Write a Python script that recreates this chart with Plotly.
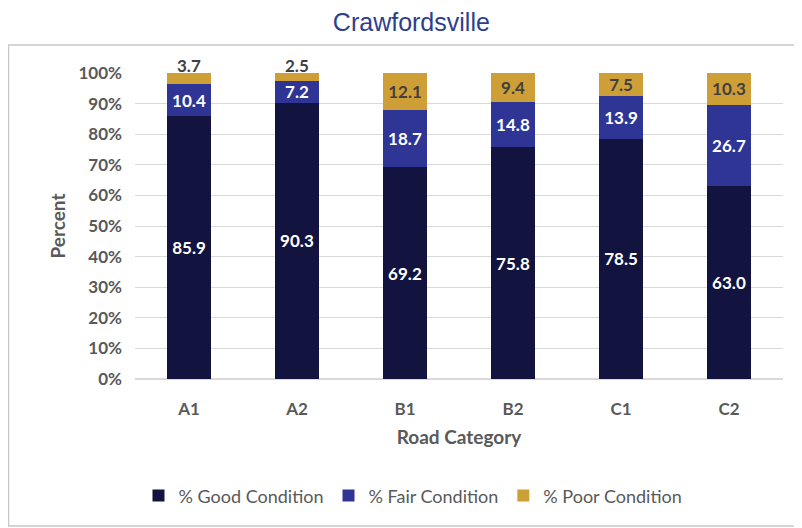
import plotly.graph_objects as go

# Road condition share per category (percent)
categories = ["A1", "A2", "B1", "B2", "C1", "C2"]
good = [85.9, 90.3, 69.2, 75.8, 78.5, 63.0]
fair = [10.4, 7.2, 18.7, 14.8, 13.9, 26.7]
poor = [3.7, 2.5, 12.1, 9.4, 7.5, 10.3]

series = [
    ("% Good Condition", good, "#13133f", "white"),
    ("% Fair Condition", fair, "#2f3594", "white"),
    ("% Poor Condition", poor, "#cf9f37", "#404040"),
]

label_font = dict(family="Lato", size=17, weight="bold")

fig = go.Figure()
for name, vals, color, txtcolor in series:
    if name.startswith("% Poor"):
        # tiny segments: label drawn above the bar instead (see annotations)
        texts = ["" if v < 5 else f"{v:.1f}" for v in vals]
    else:
        texts = [f"{v:.1f}" for v in vals]
    fig.add_trace(go.Bar(
        x=categories,
        y=vals,
        name=name,
        marker=dict(color=color, line=dict(width=0)),
        text=texts,
        textposition="inside",
        insidetextanchor="middle",
        textfont=dict(color=txtcolor, **label_font),
        width=0.4,
    ))

# labels for the small poor segments, sitting on top of the stack
for cat, g, f, p in zip(categories, good, fair, poor):
    if p < 5:
        top = min(round(g + f + p, 1), 100)
        fig.add_annotation(x=cat, y=top, text=f"{p:.1f}", showarrow=False,
                           yanchor="bottom", yshift=-5,
                           font=dict(color="#404040", **label_font))

# grey frame around the chart area
fig.add_shape(type="rect", xref="paper", yref="paper",
              x0=-0.1952, x1=1.0278, y0=-0.480, y1=1.0915,
              line=dict(color="#c8c8c8", width=1.5), layer="below")

fig.update_layout(
    width=794,
    height=520,
    barmode="stack",
    uniformtext=dict(minsize=17, mode="show"),
    plot_bgcolor="white",
    paper_bgcolor="white",
    margin=dict(l=127, r=19, t=65, b=149),
    title=dict(text="Crawfordsville", x=0.508, xanchor="center", y=0.972, yanchor="middle",
               font=dict(family="Liberation Sans", size=25, color="#2e3e8e")),
    legend=dict(orientation="h", x=0.429, xanchor="center", y=-0.382, yanchor="middle",
                font=dict(family="Lato", size=18, color="#595959"),
                itemwidth=30, traceorder="normal"),
    showlegend=True,
)
fig.update_yaxes(
    range=[0, 100],
    dtick=10,
    ticksuffix="%",
    automargin=False,
    showgrid=True,
    gridcolor="#d9d9d9",
    zeroline=True,
    zerolinecolor="#d9d9d9",
    ticklabelstandoff=12,
    tickfont=dict(family="Lato", size=17, color="#595959", weight="bold"),
    title=dict(text="Percent", standoff=7,
               font=dict(family="Lato", size=19, color="#595959", weight="bold")),
)
fig.update_xaxes(
    automargin=False,
    showline=False,
    ticklabelstandoff=18,
    tickfont=dict(family="Lato", size=17, color="#595959", weight="bold"),
    title=dict(text="Road Category", standoff=12,
               font=dict(family="Lato", size=19, color="#595959", weight="bold")),
)

fig.write_html("out.html")
